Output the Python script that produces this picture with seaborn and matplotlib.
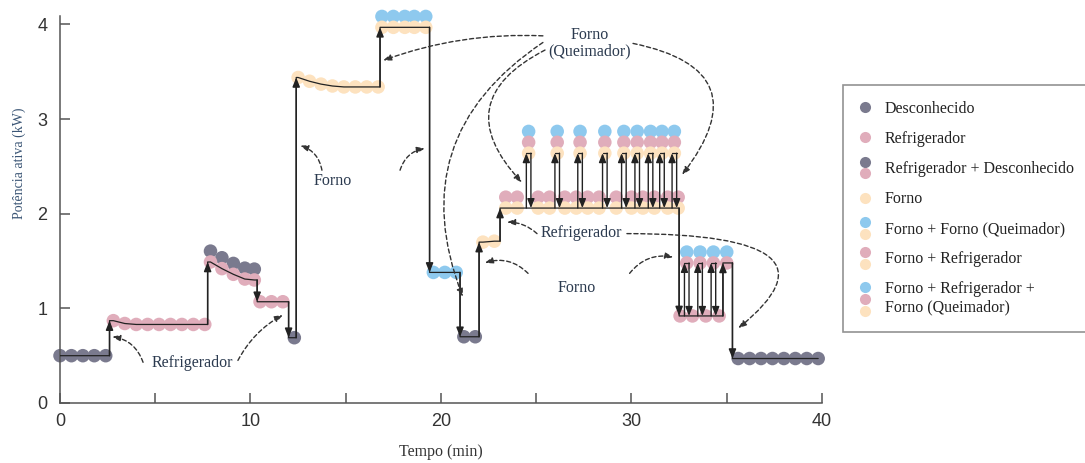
import matplotlib
matplotlib.use("Agg")
import matplotlib.pyplot as plt
import seaborn as sns
import pandas as pd
from matplotlib.lines import Line2D
from matplotlib.legend_handler import HandlerBase

# segmentos contínuos: estado, tempo (min), potência do marcador de base (kW)
seg_states = ["Desconhecido", "Refrigerador", "Refrigerador + Desconhecido", "Refrigerador",
              "Desconhecido", "Forno", "Forno + Forno (Queimador)", "Forno (Queimador)",
              "Desconhecido", "Forno", "Forno + Refrigerador", "Refrigerador",
              "Refrigerador + Forno (Queimador)", "Desconhecido"]
seg_times = [
    [0.0, 0.6, 1.2, 1.8, 2.4],
    [2.8, 3.4, 4.0, 4.6, 5.2, 5.8, 6.4, 7.0, 7.6],
    [7.9, 8.5, 9.1, 9.7, 10.2],
    [10.5, 11.1, 11.7],
    [12.3],
    [12.5, 13.1, 13.7, 14.3, 14.9, 15.5, 16.1, 16.7],
    [16.9, 17.5, 18.1, 18.6, 19.2],
    [19.6, 20.2, 20.8],
    [21.2, 21.8],
    [22.2, 22.8],
    [23.4, 24.0, 25.1, 25.7, 26.5, 27.1, 27.7, 28.3, 29.2, 30.0, 30.6, 31.2, 31.9, 32.45],
    [32.55, 33.2, 33.9, 34.6],
    [35.0],
    [35.6, 36.2, 36.8, 37.4, 38.0, 38.6, 39.2, 39.8],
]
seg_power = [
    [0.50, 0.50, 0.50, 0.50, 0.50],
    [0.87, 0.84, 0.83, 0.83, 0.83, 0.83, 0.83, 0.83, 0.83],
    [1.49, 1.42, 1.36, 1.31, 1.30],
    [1.07, 1.07, 1.07],
    [0.69],
    [3.44, 3.40, 3.37, 3.35, 3.34, 3.34, 3.34, 3.34],
    [3.97, 3.97, 3.97, 3.97, 3.97],
    [1.38, 1.38, 1.38],
    [0.70, 0.70],
    [1.70, 1.71],
    [2.06, 2.06, 2.06, 2.06, 2.06, 2.06, 2.06, 2.06, 2.06, 2.06, 2.06, 2.06, 2.06, 2.06],
    [0.92, 0.92, 0.92, 0.92],
    [1.48],
    [0.47, 0.47, 0.47, 0.47, 0.47, 0.47, 0.47, 0.47],
]

# picos curtos do queimador (liga/desliga)
spike_states = ["Forno + Refrigerador + Forno (Queimador)"] * 9 + ["Refrigerador + Forno (Queimador)"] * 3
spike_times = [24.6, 26.1, 27.3, 28.6, 29.6, 30.3, 31.0, 31.6, 32.25, 32.9, 33.6, 34.3]
spike_power = [2.64, 2.64, 2.64, 2.64, 2.64, 2.64, 2.64, 2.64, 2.64, 1.48, 1.48, 1.48]
spike_base = [2.06, 2.06, 2.06, 2.06, 2.06, 2.06, 2.06, 2.06, 2.06, 0.92, 0.92, 0.92]

# componentes de cada estado (de baixo para cima)
state_parts = {
    "Desconhecido": ["Desconhecido"],
    "Refrigerador": ["Refrigerador"],
    "Refrigerador + Desconhecido": ["Refrigerador", "Desconhecido"],
    "Forno": ["Forno"],
    "Forno (Queimador)": ["Queimador"],
    "Forno + Forno (Queimador)": ["Forno", "Queimador"],
    "Forno + Refrigerador": ["Forno", "Refrigerador"],
    "Forno + Refrigerador + Forno (Queimador)": ["Forno", "Refrigerador", "Queimador"],
    "Refrigerador + Forno (Queimador)": ["Refrigerador", "Queimador"],
}
part_colors = {"Desconhecido": "#7a7a8e", "Refrigerador": "#e0adbb",
               "Forno": "#fde2bf", "Queimador": "#8ec9ee"}

legend_labels = ["Desconhecido", "Refrigerador", "Refrigerador + Desconhecido", "Forno",
                 "Forno + Forno (Queimador)", "Forno + Refrigerador",
                 "Forno + Refrigerador +\nForno (Queimador)"]
legend_states = ["Desconhecido", "Refrigerador", "Refrigerador + Desconhecido", "Forno",
                 "Forno + Forno (Queimador)", "Forno + Refrigerador",
                 "Forno + Refrigerador + Forno (Queimador)"]

STACK = 0.115
LINE = "#222222"
TXT = "#2b3a4f"
SERIF = "Liberation Serif"


class Stack:
    def __init__(self, colors):
        self.colors = colors


class StackHandler(HandlerBase):
    def create_artists(self, legend, orig_handle, xdescent, ydescent, width, height, fontsize, trans):
        n = len(orig_handle.colors)
        cx = width / 2 - xdescent
        cy = height / 2 - ydescent
        arts = []
        for i, c in enumerate(orig_handle.colors):
            y = cy + ((n - 1) / 2 - i) * 8.6
            arts.append(Line2D([cx], [y], marker="o", ms=8, color=c, ls="", mec="none", transform=trans))
        return arts


sns.set_theme(style="ticks")
plt.rcParams["font.family"] = ["Liberation Sans", "DejaVu Sans"]

fig = plt.figure(figsize=(10.85, 4.63), dpi=100)
ax = fig.add_axes([0.0553, 0.1296, 0.7023, 0.8359])

# marcadores empilhados
rows = []
all_states = seg_states + spike_states
all_times = seg_times + [[t] for t in spike_times]
all_power = seg_power + [[p] for p in spike_power]
for state, ts, ps in zip(all_states, all_times, all_power):
    for t, p in zip(ts, ps):
        for k, part in enumerate(state_parts[state]):
            rows.append({"t": t, "y": p + k * STACK, "part": part, "layer": k})
mk = pd.DataFrame(rows).sort_values("layer", ascending=False, kind="stable")
sns.scatterplot(data=mk, x="t", y="y", hue="part", palette=part_colors, s=95,
                linewidth=0, legend=False, ax=ax, zorder=2, clip_on=False)

# traçado com degraus entre segmentos
trace_t, trace_p, steps = [], [], []
for i, (ts, ps) in enumerate(zip(seg_times, seg_power)):
    if i > 0:
        x = (seg_times[i - 1][-1] + ts[0]) / 2
        y0 = seg_power[i - 1][-1]
        trace_t += [x, x]
        trace_p += [y0, ps[0]]
        steps.append((x, y0, ps[0]))
    trace_t += ts
    trace_p += ps
sns.lineplot(x=trace_t, y=trace_p, sort=False, estimator=None, color=LINE, lw=0.9, ax=ax, zorder=3)

head = "-|>,head_length=0.45,head_width=0.18"
for x, y0, y1 in steps:
    ax.annotate("", xy=(x, y1), xytext=(x, y0),
                arrowprops=dict(arrowstyle=head, color=LINE, lw=1.1, shrinkA=0, shrinkB=0), zorder=3)

for t, p, b in zip(spike_times, spike_power, spike_base):
    ax.annotate("", xy=(t - 0.12, p), xytext=(t - 0.12, b),
                arrowprops=dict(arrowstyle=head, color=LINE, lw=1.0, shrinkA=0, shrinkB=0), zorder=3)
    ax.annotate("", xy=(t + 0.12, b), xytext=(t + 0.12, p),
                arrowprops=dict(arrowstyle=head, color=LINE, lw=1.0, shrinkA=0, shrinkB=0), zorder=3)
    ax.plot([t - 0.12, t + 0.12], [p, p], color=LINE, lw=0.9, zorder=3)

# rótulos com setas tracejadas
dash = dict(arrowstyle="-|>,head_length=0.4,head_width=0.15", color="#333333", lw=1.0,
            linestyle=(0, (3, 2)), shrinkA=0, shrinkB=0)
labels = [
    ("Refrigerador", (6.93, 0.42), [((4.36, 0.43), (2.73, 0.70), "arc3,rad=0.3"),
                                    ((9.34, 0.45), (11.7, 0.93), "arc3,rad=-0.15")]),
    ("Forno", (14.33, 2.35), [((13.75, 2.46), (12.6, 2.72), "arc3,rad=0.3"),
                              ((17.85, 2.46), (19.16, 2.69), "arc3,rad=-0.3")]),
    ("Forno\n(Queimador)", (27.8, 3.80), [((25.35, 3.88), (16.96, 3.62), "arc3,rad=0.1"),
                                          ((25.35, 3.81), (21.15, 1.12), "arc3,rad=0.4"),
                                          ((25.46, 3.73), (24.25, 2.33), "arc3,rad=0.66"),
                                          ((30.08, 3.80), (32.65, 2.41), "arc3,rad=-0.8")]),
    ("Refrigerador", (27.35, 1.80), [((25.04, 1.79), (23.46, 1.91), "arc3,rad=0.2"),
                                     ((29.76, 1.79), (35.6, 0.79), "angle3,angleA=0,angleB=39")]),
    ("Forno", (27.1, 1.21), [((24.57, 1.37), (22.3, 1.48), "arc3,rad=0.3"),
                             ((29.9, 1.37), (32.2, 1.54), "arc3,rad=-0.3")]),
]
for text, pos, arrows in labels:
    ax.text(pos[0], pos[1], text, ha="center", va="center", family=SERIF, fontsize=11.5,
            color=TXT, linespacing=1.0, zorder=4)
    for start, tip, style in arrows:
        ax.annotate("", xy=tip, xytext=start, arrowprops=dict(dash, connectionstyle=style), zorder=4)

ax.set_xlim(0, 40)
ax.set_ylim(0, 4.09)
ax.set_xticks(range(0, 41, 5))
ax.set_xticklabels(["0", "", "10", "", "20", "", "30", "", "40"])
ax.set_yticks([0, 1, 2, 3, 4])
sns.despine(ax=ax)
for s in ["left", "bottom"]:
    ax.spines[s].set_color("#555555")
    ax.spines[s].set_linewidth(1.1)
ax.tick_params(direction="in", length=7, width=1.1, color="#555555", labelsize=13, labelcolor="#333333")
ax.tick_params(axis="y", pad=9)
ax.tick_params(axis="x", pad=7)

ax.set_ylabel("Potência ativa (kW)", family=SERIF, fontsize=10, color="#3a5575")
ax.yaxis.set_label_coords(-0.045, 0.62)
ax.set_xlabel("Tempo (min)", family=SERIF, fontsize=11.5, color="#333333")
ax.xaxis.set_label_coords(0.5, -0.105)

handles = [Stack([part_colors[p] for p in reversed(state_parts[s])]) for s in legend_states]
leg = ax.legend(handles, legend_labels, handler_map={Stack: StackHandler()}, loc="upper left",
                bbox_to_anchor=(0.777, 0.8164), bbox_transform=fig.transFigure, borderaxespad=0,
                frameon=True, fancybox=False, edgecolor="#777777",
                prop={"family": SERIF, "size": 11.5}, labelspacing=0.88,
                handlelength=0.8, handletextpad=0.8, borderpad=1.0)
leg.get_frame().set_linewidth(1.2)
for t in leg.get_texts():
    t.set_color("#222222")

fig.savefig("out.png", dpi=100)
